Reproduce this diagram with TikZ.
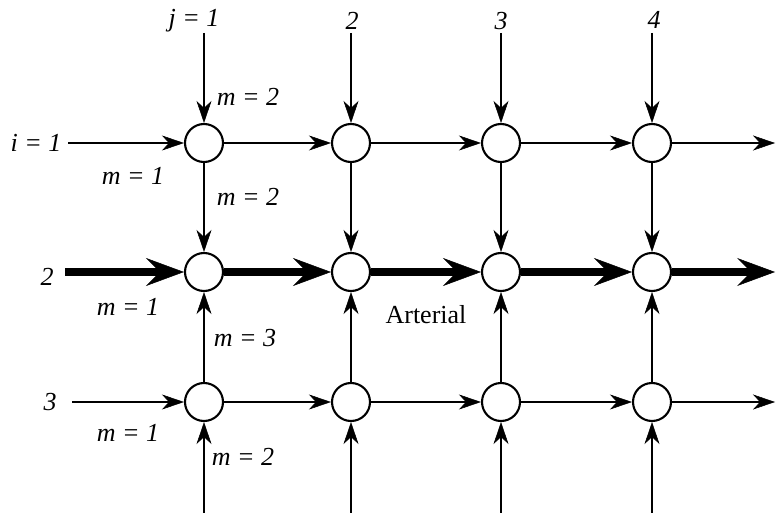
\documentclass[tikz,border=0pt]{standalone}
\usepackage{fontspec}
\setmainfont{Liberation Serif}
\usetikzlibrary{arrows.meta}

\begin{document}
\begin{tikzpicture}[x=1pt,y=-1pt,
    junction/.style={circle,draw,line width=2.1pt,minimum size=38pt,inner sep=0pt,fill=white},
    link/.style={line width=1.8pt,-{Stealth[length=22pt,width=15pt,inset=7pt,line width=0.5pt]}},
    arterial/.style={line width=8pt,-{Stealth[length=38pt,width=28pt,inset=14pt,line width=0.5pt]}},
    lbl/.style={font=\fontsize{26}{30}\selectfont\itshape}]
        \useasboundingbox (0,0) rectangle (776,513);
        \foreach \x [count=\j] in {204,351,501,652} {
            \foreach \y [count=\i] in {143,272,402}
                \node[junction] (c\i\j) at (\x,\y) {};
            \coordinate (t\j) at (\x,33);
            \coordinate (b\j) at (\x,513);
        }
        \coordinate (w1) at (68,143);
        \coordinate (w2) at (65,272);
        \coordinate (w3) at (72,402);
        \coordinate (e1) at (775,143);
        \coordinate (e2) at (775,272);
        \coordinate (e3) at (775,402);
        \foreach \j in {1,...,4} {
            \draw[link] (t\j) -- (c1\j);
            \draw[link] (c1\j) -- (c2\j);
            \draw[link] (c3\j) -- (c2\j);
            \draw[link] (b\j) -- (c3\j);
        }
        \foreach \i in {1,3} {
            \draw[link] (w\i) -- (c\i1);
            \draw[link] (c\i1) -- (c\i2);
            \draw[link] (c\i2) -- (c\i3);
            \draw[link] (c\i3) -- (c\i4);
            \draw[link] (c\i4) -- (e\i);
        }
        \draw[arterial] (w2) -- (c21);
        \draw[arterial] (c21) -- (c22);
        \draw[arterial] (c22) -- (c23);
        \draw[arterial] (c23) -- (c24);
        \draw[arterial] (c24) -- (e2);
        \node[lbl] (col1) at (194,21) {j = 1};
        \node[lbl] (col2) at (352,21) {2};
        \node[lbl] (col3) at (501,21) {3};
        \node[lbl] (col4) at (654,20) {4};
        \node[lbl] (row1) at (36,143) {i = 1};
        \node[lbl] (row2) at (47,277) {2};
        \node[lbl] (row3) at (50,402) {3};
        \node[lbl] (m1a) at (248,97) {m = 2};
        \node[lbl] (m1b) at (133,176) {m = 1};
        \node[lbl] (m1c) at (248,197) {m = 2};
        \node[lbl] (m2a) at (128,307) {m = 1};
        \node[lbl] (m2b) at (245,338) {m = 3};
        \node[lbl] (m3a) at (128,433) {m = 1};
        \node[lbl] (m3b) at (243,457) {m = 2};
        \node[font=\fontsize{26}{30}\selectfont] (art) at (426,315) {Arterial};
\end{tikzpicture}
\end{document}
